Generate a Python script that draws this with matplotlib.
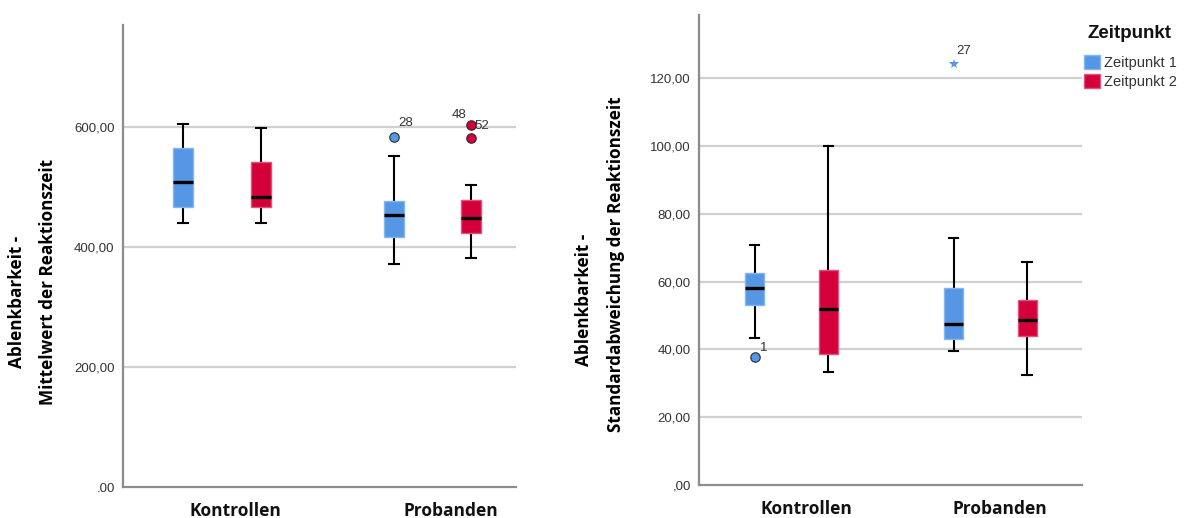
import matplotlib
matplotlib.use("Agg")
import matplotlib.pyplot as plt
from matplotlib.patches import Patch

# ---------------- data ----------------
groups = ["Kontrollen", "Probanden"]
zeitpunkte = ["Zeitpunkt 1", "Zeitpunkt 2"]
legend_title = "Zeitpunkt"

# Order of boxes: (Kontrollen, Z1), (Kontrollen, Z2), (Probanden, Z1), (Probanden, Z2)
mean_whislo = [440, 440, 372, 381]
mean_q1 = [467, 466, 416, 423]
mean_med = [509, 484, 453, 449]
mean_q3 = [565, 542, 477, 478]
mean_whishi = [605, 598, 552, 503]
mean_outliers = [[], [], [584], [603, 582]]
mean_outlier_labels = [[], [], ["28"], ["48", "52"]]
mean_yticks = [0, 200, 400, 600]
mean_yticklabels = [".00", "200,00", "400,00", "600,00"]

sd_whislo = [43.4, 33.2, 39.5, 32.3]
sd_q1 = [53.2, 38.7, 43.1, 43.9]
sd_med = [58.2, 51.8, 47.5, 48.7]
sd_q3 = [62.6, 63.5, 58.0, 54.6]
sd_whishi = [70.8, 99.9, 72.8, 65.9]
sd_outliers = [[37.7], [], [], []]
sd_outlier_labels = [["1"], [], [], []]
sd_extremes = [[], [], [124.3], []]
sd_extreme_labels = [[], [], ["27"], []]
sd_yticks = [0, 20, 40, 60, 80, 100, 120]
sd_yticklabels = [",00", "20,00", "40,00", "60,00", "80,00", "100,00", "120,00"]

ylabel_mean = ["Ablenkbarkeit -", "Mittelwert der Reaktionszeit"]
ylabel_sd = ["Ablenkbarkeit -", "Standardabweichung der Reaktionszeit"]

# ---------------- style ----------------
COLORS = ["#5597E5", "#D3003A"]
EDGES = ["#86B6EE", "#E0537A"]
GRID = "#D0D0D0"
SPINE = "#8C8C8C"
TXT = "#333333"
W, H = 1184, 518
OFFSET = 0.185
BOXW = 0.095

fig = plt.figure(figsize=(W / 100, H / 100), dpi=100)


def draw(ax, whislo, q1, med, q3, whishi, outliers, outlier_labels,
         extremes, extreme_labels, yticks, yticklabels, ylim, xlim, xtickpos,
         label_offsets):
    positions = []
    stats = []
    colors = []
    for gi in range(len(groups)):
        for zi in range(len(zeitpunkte)):
            k = gi * len(zeitpunkte) + zi
            positions.append(gi + 1 + (zi - 0.5) * 2 * OFFSET)
            stats.append(dict(med=med[k], q1=q1[k], q3=q3[k],
                              whislo=whislo[k], whishi=whishi[k], fliers=[]))
            colors.append(zi)
    for y in yticks:
        if y > 0:
            ax.axhline(y, color=GRID, lw=1.6, zorder=0)
    bp = ax.bxp(stats, positions=positions, widths=BOXW, patch_artist=True,
                showfliers=False, capwidths=BOXW * 0.5,
                medianprops=dict(color="black", lw=2.4, solid_capstyle="butt"),
                whiskerprops=dict(color="black", lw=1.5),
                capprops=dict(color="black", lw=1.5),
                boxprops=dict(lw=1.0))
    for patch, ci in zip(bp["boxes"], colors):
        patch.set_facecolor(COLORS[ci])
        patch.set_edgecolor(EDGES[ci])
        patch.set_zorder(3)
    for m in bp["medians"]:
        m.set_zorder(4)
    for k, pos in enumerate(positions):
        ci = colors[k]
        if outliers[k]:
            ax.plot([pos] * len(outliers[k]), outliers[k], "o", ms=6.8,
                    mfc=COLORS[ci], mec="#2a2a2a", mew=0.8, zorder=5,
                    linestyle="none")
        if extremes[k]:
            ax.plot([pos] * len(extremes[k]), extremes[k], "*", ms=7,
                    color=COLORS[ci], mew=0, zorder=5, linestyle="none")
    # case labels of outliers / extremes
    for (k, j, txt, is_ext), (dx, dy, ha) in label_offsets:
        vals = extremes[k] if is_ext else outliers[k]
        ax.annotate(txt, (positions[k], vals[j]), xytext=(dx, dy),
                    textcoords="offset pixels", ha=ha, va="center",
                    fontsize=9.5, color=TXT, family="Liberation Sans")
    ax.set_ylim(*ylim)
    ax.set_xlim(*xlim)
    ax.set_yticks(yticks)
    ax.set_yticklabels(yticklabels, fontsize=9.5, color=TXT,
                       family="Liberation Sans")
    ax.set_xticks(xtickpos)
    ax.set_xticklabels(groups, fontsize=12.5, fontweight="bold",
                       family="Open Sans", color="#111111")
    ax.tick_params(axis="both", length=0)
    ax.tick_params(axis="y", pad=6)
    ax.tick_params(axis="x", pad=11)
    for s in ["top", "right"]:
        ax.spines[s].set_visible(False)
    for s in ["left", "bottom"]:
        ax.spines[s].set_color(SPINE)
        ax.spines[s].set_linewidth(1.6)
    ax.set_facecolor("white")


# left chart
ax1 = fig.add_axes([123 / W, (H - 487) / H, 393 / W, (487 - 25) / H])
draw(ax1, mean_whislo, mean_q1, mean_med, mean_q3, mean_whishi,
     mean_outliers, mean_outlier_labels, [[], [], [], []], [[], [], [], []],
     mean_yticks, mean_yticklabels, (0, 770), (0.5297, 2.397), [1.062, 2.088],
     [((2, 0, mean_outlier_labels[2][0], False), (5, 14, "left")),
      ((3, 0, mean_outlier_labels[3][0], False), (-5, 10, "right")),
      ((3, 0, mean_outlier_labels[3][1], False), (3, -1, "left"))])

# right chart
ax2 = fig.add_axes([699 / W, (H - 484.7) / H, 383 / W, (484.7 - 14.7) / H])
draw(ax2, sd_whislo, sd_q1, sd_med, sd_q3, sd_whishi,
     sd_outliers, sd_outlier_labels, sd_extremes, sd_extreme_labels,
     sd_yticks, sd_yticklabels, (0, 138.8), (0.5347, 2.461), [1.076, 2.049],
     [((0, 0, sd_outlier_labels[0][0], False), (5, 9, "left")),
      ((2, 0, sd_extreme_labels[2][0], True), (3, 13, "left"))])

# y labels
fig.text(17 / W, 1 - 302 / H, ylabel_mean[0], rotation=90, ha="center",
         va="center", fontsize=12.3, fontweight="bold", family="Open Sans")
fig.text(48 / W, 1 - 282 / H, ylabel_mean[1], rotation=90, ha="center",
         va="center", fontsize=12.3, fontweight="bold", family="Open Sans")
fig.text(584 / W, 1 - 300 / H, ylabel_sd[0], rotation=90, ha="center",
         va="center", fontsize=12.3, fontweight="bold", family="Open Sans")
fig.text(616 / W, 1 - 264.5 / H, ylabel_sd[1], rotation=90, ha="center",
         va="center", fontsize=12.3, fontweight="bold", family="Open Sans")

# legend
fig.text(1087 / W, 1 - 33 / H, legend_title, ha="left", va="center",
         fontsize=13.5, fontweight="bold", family="Liberation Sans",
         color="#111111")
handles = [Patch(facecolor=COLORS[i], edgecolor=EDGES[i], label=zeitpunkte[i])
           for i in range(len(zeitpunkte))]
leg = fig.legend(handles=handles, loc="upper left",
                 bbox_to_anchor=(1081 / W, 1 - 52 / H), frameon=False,
                 prop=dict(family="Liberation Sans", size=10.5),
                 handlelength=1.1, handleheight=1.1, handletextpad=0.25,
                 labelspacing=0.3, borderaxespad=0, borderpad=0.2)
for t in leg.get_texts():
    t.set_color(TXT)

fig.savefig("out.png", dpi=100, facecolor="white")
